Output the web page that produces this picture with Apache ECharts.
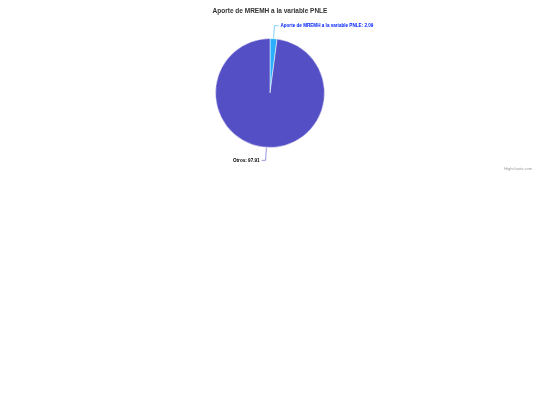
<!DOCTYPE html>
<html><head><meta charset="utf-8">
<script src="https://cdn.jsdelivr.net/npm/echarts@6/dist/echarts.min.js"></script>
<style>html,body{margin:0;padding:0;background:#fff}#c{width:540px;height:405px}</style>
</head><body><div id="c"></div>
<script>
const titleText = "Aporte de MREMH a la variable PNLE";
const categories = ["Aporte de MREMH a la variable PNLE", "Otros"];
const values = [2.09, 97.91];
const colors = ["#2caffe", "#544fc5"];
const labelColors = ["#0022ff", "#000000"];

const chart = echarts.init(document.getElementById('c'), null, {renderer: 'canvas'});
chart.setOption({
  animation: false,
  title: {
    text: titleText, left: 'center', top: 3,
    textStyle: {fontFamily: 'Liberation Sans, Arial', fontSize: 6.5, fontWeight: 'bold', color: '#333333'}
  },
  graphic: [{
    type: 'text', right: 8, top: 167,
    style: {text: 'Highcharts.com', fontFamily: 'Liberation Sans, Arial', fontSize: 4, fill: '#999999'}
  }],
  series: [{
    type: 'pie',
    center: [270, 93],
    radius: 54.5,
    startAngle: 90,
    clockwise: true,
    data: categories.map((c, i) => ({
      name: c, value: values[i],
      itemStyle: {color: colors[i]},
      label: {color: labelColors[i]}
    })),
    itemStyle: {borderColor: '#ffffff', borderWidth: 0.5},
    label: {
      show: true,
      formatter: p => p.name + ': ' + p.value.toFixed(2),
      fontFamily: 'Liberation Sans, Arial', fontSize: 4.6, fontWeight: 'bold',
      distanceToLabelLine: 2
    },
    labelLine: {show: true, length: 13, length2: 4, lineStyle: {width: 0.6}},
    emphasis: {disabled: true}
  }]
});
</script></body></html>
